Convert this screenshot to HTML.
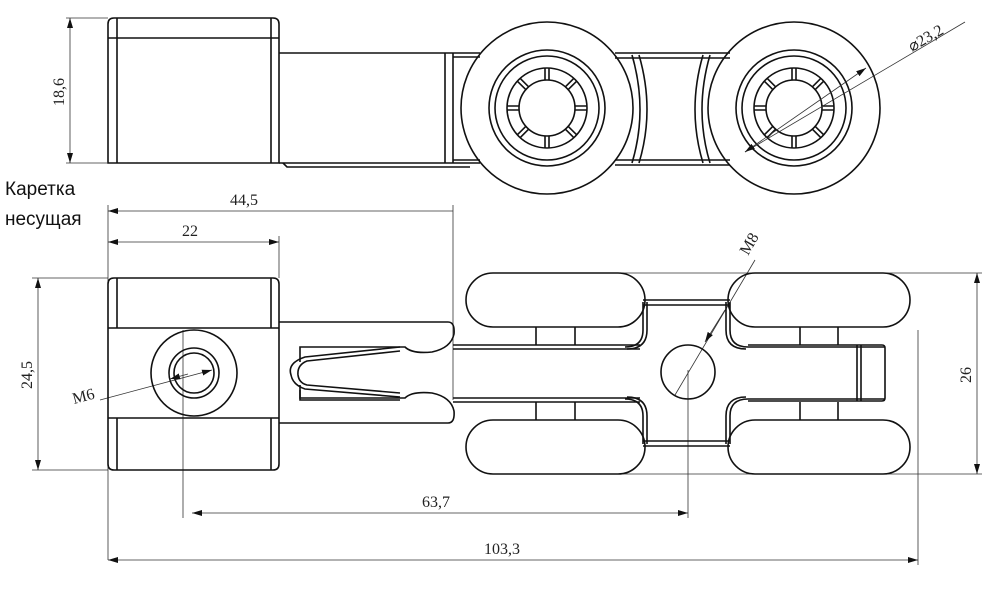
<!DOCTYPE html>
<html><head><meta charset="utf-8"><style>
html,body{margin:0;padding:0;background:#fff;}
svg{display:block}
.k{fill:none;stroke:#111;stroke-width:1.6}
.t{fill:none;stroke:#333;stroke-width:0.8}
text{font-family:"Liberation Serif",serif;font-size:16px;fill:#222}
</style></head><body>
<svg width="1000" height="592" viewBox="0 0 1000 592">
<defs><marker id="a" viewBox="0 0 10 6" refX="10" refY="3" markerWidth="10" markerHeight="6" orient="auto-start-reverse" markerUnits="userSpaceOnUse"><path d="M0,0L10,3L0,6z" fill="#111"/></marker>
<path id="sp" class="k" d="M-2,-40V-28M2,-40V-28"/>
</defs>

<!-- TOP VIEW -->
<path class="k" d="M108,163V24q0-6 6-6H273q6,0 6,6V163Z"/>
<line class="k" x1="108" y1="38" x2="279" y2="38"/>
<line class="k" x1="117" y1="18" x2="117" y2="163"/>
<line class="k" x1="271" y1="18" x2="271" y2="163"/>
<path class="k" d="M279,53H480M279,163H480M445,53V163M453,53V163"/>
<path class="k" d="M283,163l4,4H470"/>
<path class="k" d="M453,57H480M453,160H480"/>
<path class="k" d="M615,53H730M615,58H730M615,160H730M615,165H730"/>
<path class="k" d="M632,55Q648,110 632,163M639,55Q655,110 639,163"/>
<path class="k" d="M710,55Q694,110 710,163M703,55Q687,110 703,163"/>
<circle class="k" cx="547" cy="108" r="86" fill="#fff"/>
<circle class="k" cx="794" cy="108" r="86" fill="#fff"/>
<g id="hub1" transform="translate(547,108)">
<circle class="k" r="58"/><circle class="k" r="52"/>
<circle class="k" r="40"/><circle class="k" r="28"/>
<use href="#sp"/><use href="#sp" transform="rotate(45)"/><use href="#sp" transform="rotate(90)"/><use href="#sp" transform="rotate(135)"/>
<use href="#sp" transform="rotate(180)"/><use href="#sp" transform="rotate(225)"/><use href="#sp" transform="rotate(270)"/><use href="#sp" transform="rotate(315)"/>
</g>
<use href="#hub1" x="247" y="0"/>
<!-- dims top -->
<line class="t" x1="66" y1="18" x2="108" y2="18"/><line class="t" x1="66" y1="163" x2="108" y2="163"/>
<line class="t" x1="70" y1="18" x2="70" y2="163" marker-start="url(#a)" marker-end="url(#a)"/>
<text transform="translate(64,92) rotate(-90)" text-anchor="middle">18,6</text>
<line class="t" x1="745" y1="152" x2="965" y2="22"/>
<line class="t" x1="745" y1="152" x2="866" y2="68" marker-start="url(#a)" marker-end="url(#a)"/>
<text transform="translate(912,52) rotate(-30)">⌀23,2</text>

<text x="5" y="195" style="font-family:'Liberation Sans',sans-serif;font-size:19px;fill:#111">Каретка</text>
<text x="5" y="225" style="font-family:'Liberation Sans',sans-serif;font-size:19px;fill:#111">несущая</text>

<!-- dims bottom -->
<line class="t" x1="108" y1="205" x2="108" y2="560"/>
<line class="t" x1="279" y1="236" x2="279" y2="278"/>
<line class="t" x1="453" y1="205" x2="453" y2="400"/>
<line class="t" x1="108" y1="211" x2="453" y2="211" marker-start="url(#a)"/>
<text x="230" y="205">44,5</text>
<line class="t" x1="108" y1="242" x2="279" y2="242" marker-start="url(#a)" marker-end="url(#a)"/>
<text x="182" y="236">22</text>
<line class="t" x1="32" y1="278" x2="108" y2="278"/><line class="t" x1="32" y1="470" x2="108" y2="470"/>
<line class="t" x1="38" y1="278" x2="38" y2="470" marker-start="url(#a)" marker-end="url(#a)"/>
<text transform="translate(32,375) rotate(-90)" text-anchor="middle">24,5</text>
<line class="t" x1="620" y1="273" x2="982" y2="273"/><line class="t" x1="620" y1="474" x2="982" y2="474"/>
<line class="t" x1="977" y1="273" x2="977" y2="474" marker-start="url(#a)" marker-end="url(#a)"/>
<text transform="translate(971,375) rotate(-90)" text-anchor="middle">26</text>
<line class="t" x1="183" y1="330" x2="183" y2="518"/>
<line class="t" x1="688" y1="370" x2="688" y2="518"/>
<line class="t" x1="192" y1="513" x2="688" y2="513" marker-start="url(#a)" marker-end="url(#a)"/>
<text x="422" y="507">63,7</text>
<line class="t" x1="918" y1="330" x2="918" y2="565"/>
<line class="t" x1="108" y1="560" x2="918" y2="560" marker-start="url(#a)" marker-end="url(#a)"/>
<text x="484" y="554">103,3</text>
<line class="t" x1="100" y1="400" x2="212" y2="370" marker-end="url(#a)"/>
<line class="t" x1="188" y1="374" x2="170" y2="379" marker-end="url(#a)"/>
<text transform="translate(74,404) rotate(-15)">M6</text>
<line class="t" x1="675" y1="395" x2="755" y2="260"/>
<line class="t" x1="725" y1="310" x2="705" y2="342" marker-end="url(#a)"/>
<text transform="translate(748,256) rotate(-60)">M8</text>

<!-- BOTTOM VIEW block -->
<path class="k" d="M108,464V284q0-6 6-6H273q6,0 6,6V464q0,6-6,6H114q-6,0-6-6Z"/>
<path class="k" d="M108,328H279M108,418H279M117,278V328M271,278V328M117,418V470M271,418V470"/>
<circle class="k" cx="194" cy="373" r="43"/>
<circle class="k" cx="194" cy="373" r="25"/><circle class="k" cx="194" cy="373" r="20"/>
<!-- arm -->
<path class="k" d="M279,322H448q7,0 6,12q-3,14-22,18q-20,2-27,-5H300v8"/>
<path class="k" d="M279,423H448q7,0 6,-12q-3,-14-22,-18q-20,-2-27,5H300v-8"/>
<path class="k" d="M453,345H640M453,349H640M453,398H640M453,402H640"/>
<path class="k" d="M400,347L305,357q-18,6-14,18q2,10 14,14L400,397"/>
<path class="k" d="M400,351L307,361q-10,4-9,14q1,8 9,10L400,393"/>
<path class="k" d="M300,355V362M300,385V400H400"/>
<!-- rollers -->
<rect class="k" x="466" y="273" width="179" height="54" rx="27" fill="#fff"/>
<rect class="k" x="728" y="273" width="182" height="54" rx="27" fill="#fff"/>
<rect class="k" x="466" y="420" width="179" height="54" rx="27" fill="#fff"/>
<rect class="k" x="728" y="420" width="182" height="54" rx="27" fill="#fff"/>
<path class="k" d="M536,327V345M575,327V345M536,402V420M575,402V420M800,327V345M838,327V345M800,402V420M838,402V420"/>
<!-- plate -->
<path class="k" d="M643,300H730M643,305H730M643,441H730M643,446H730"/>
<path class="k" d="M643,302V330q0,17-18,17M647,302V330q0,19-20,19"/>
<path class="k" d="M730,302V330q0,17 18,17H885M726,302V330q0,19 20,19"/>
<path class="k" d="M643,444V416q0,-17-18,-17M647,444V416q0,-19-20,-19"/>
<path class="k" d="M730,444V416q0,-17 18,-17H885M726,444V416q0,-19 20,-19"/>
<path class="k" d="M748,345H882q3,0 3,3V398q0,3-3,3H748"/>
<path class="k" d="M857,345V401M861,345V401"/>
<circle class="k" cx="688" cy="372" r="27"/>
</svg>
</body></html>
